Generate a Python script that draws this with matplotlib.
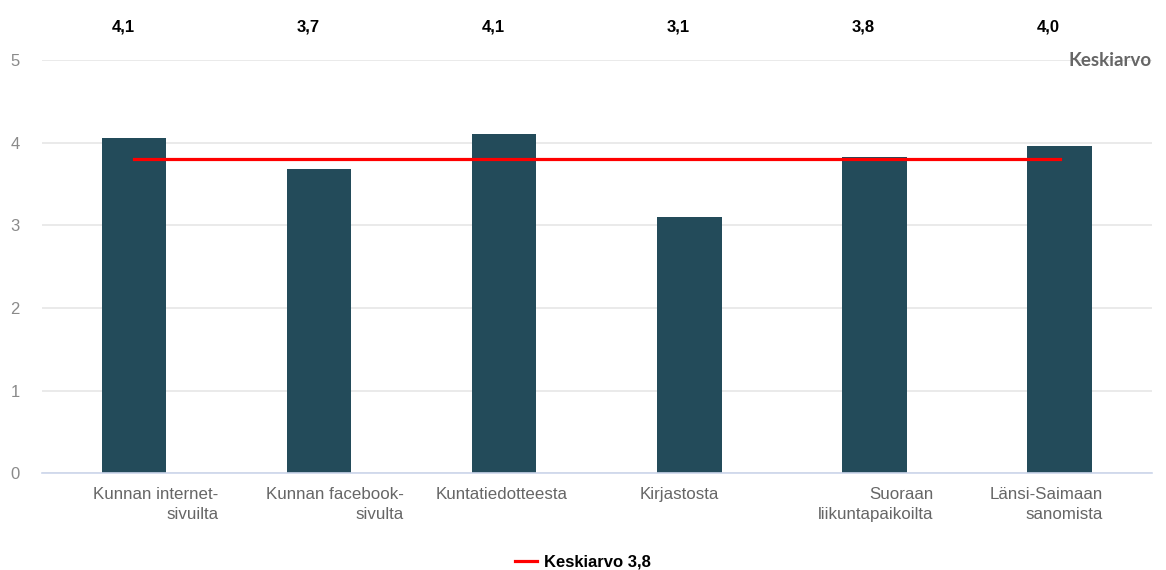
import matplotlib

matplotlib.use('Agg')

import matplotlib.pyplot as plt
import matplotlib.transforms as mtransforms

categories = [
    'Kunnan internet-\nsivuilta',
    'Kunnan facebook-\nsivulta',
    'Kuntatiedotteesta',
    'Kirjastosta',
    'Suoraan\nliikuntapaikoilta',
    'Länsi-Saimaan\nsanomista',
]
values = [4.06, 3.68, 4.10, 3.10, 3.83, 3.96]
value_labels = ['4,1', '3,7', '4,1', '3,1', '3,8', '4,0']
mean_value = 3.8
mean_label = 'Keskiarvo 3,8'

# label right edge offsets from bar centre, in pixels
label_shift = [84, 84, 63, 30, 59, 43]

plt.rcParams['font.family'] = ['Liberation Sans', 'DejaVu Sans']

fig = plt.figure(figsize=(11.66, 5.70), dpi=100)
ax = fig.add_axes([0.036, 0.170, 0.952, 0.7245])

x = list(range(len(categories)))
ax.bar(x, values, width=0.346, color='#234b5a', zorder=2)
line, = ax.plot(x, [mean_value] * len(x), color='#ff0000', lw=2.3,
                zorder=3, label=mean_label)

ax.set_xlim(-0.5, len(x) - 0.5)
ax.set_ylim(0, 5)
ax.set_yticks(range(6))
ax.grid(axis='y', color='#e6e6e6', lw=1.2, zorder=0)
for s in ['top', 'right', 'left']:
    ax.spines[s].set_visible(False)
ax.spines['bottom'].set_color('#ccd6eb')
ax.spines['bottom'].set_linewidth(1.2)
ax.tick_params(axis='both', length=0)
ax.tick_params(axis='y', labelcolor='#8a8a8a', labelsize=12, pad=16)

ax.set_xticks(x)
ax.set_xticklabels(categories, color='#666666', fontsize=12.2,
                   ha='right', multialignment='right')
ax.tick_params(axis='x', pad=10)
for lab, dx in zip(ax.get_xticklabels(), label_shift):
    lab.set_linespacing(1.45)
    lab.set_transform(lab.get_transform() +
                      mtransforms.ScaledTranslation(dx / 100, 0, fig.dpi_scale_trans))

for xi, txt in zip(x, value_labels):
    ax.text(xi, 1.08, txt, transform=ax.get_xaxis_transform(),
            ha='right', va='center', fontsize=12, fontweight='bold', color='black')

ax.text(1.0, 1.0, 'Keskiarvo', transform=ax.transAxes, ha='right', va='center',
        fontsize=13.5, fontweight='bold', color='#666666', family=['Lato', 'DejaVu Sans'])

leg = fig.legend(handles=[line], loc='center', bbox_to_anchor=(0.5, 0.014),
                 frameon=False, handlelength=1.3, handletextpad=0.45,
                 prop={'weight': 'bold', 'size': 12})

fig.savefig('out.png', dpi=100)
